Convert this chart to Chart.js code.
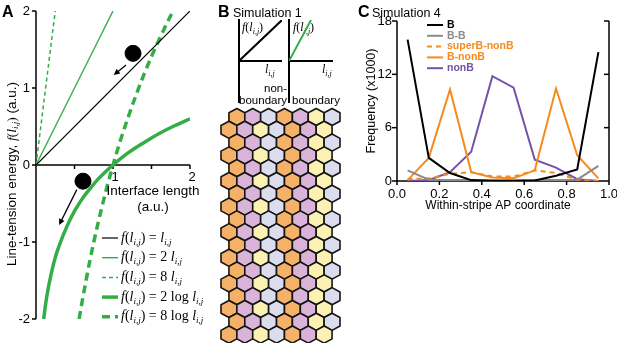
<!DOCTYPE html>
<html>
  <head>
    <meta charset="utf-8" />
    <title>Line tension energy and boundary simulations</title>
    <style>
      body {
        margin: 0;
        padding: 0;
        background: #fff;
      }
      #page {
        position: relative;
        width: 617px;
        height: 343px;
        overflow: hidden;
      }
      canvas {
        position: absolute;
        top: 0;
      }
    </style>
  </head>
  <body>
    <div id="page">
      <canvas id="chartA" width="207" height="343" style="left: 0"></canvas>
      <canvas id="chartB" width="148" height="343" style="left: 207px"></canvas>
      <canvas id="miniB1" width="53" height="96" style="left: 233px; top: 14px"></canvas>
      <canvas id="miniB2" width="56" height="96" style="left: 286px; top: 14px"></canvas>
      <canvas id="chartC" width="262" height="343" style="left: 355px"></canvas>
    </div>

    <script src="https://cdn.jsdelivr.net/npm/chart.js"></script>
    <script>
      // ---- panel A: line-tension functions ----
      const aTicksY = [-2, -1, 0, 1, 2];
      const aTicksX = [0.5, 1, 1.5, 2];
      const aTickLabelsX = ["", "1", "", "2"];
      const identX = [0, 2];
      const identY = [0, 2];
      const twoLinX = [0, 1];
      const twoLinY = [0, 2];
      const eightLinX = [0, 0.25];
      const eightLinY = [0, 2];
      const twoLogX = [0.1, 0.12, 0.15, 0.2, 0.25, 0.3, 0.4, 0.5, 0.6, 0.7, 0.8, 0.9, 1.0, 1.2, 1.4, 1.6, 1.8, 2.0];
      const twoLogY = [-2.0, -1.84, -1.65, -1.4, -1.2, -1.05, -0.8, -0.6, -0.44, -0.31, -0.19, -0.09, 0, 0.16, 0.29, 0.41, 0.51, 0.6];
      const eightLogX = [0.56, 0.6, 0.65, 0.7, 0.8, 0.9, 1.0, 1.1, 1.2, 1.3, 1.4, 1.5, 1.6, 1.7, 1.78];
      const eightLogY = [-2.0, -1.77, -1.5, -1.24, -0.78, -0.37, 0, 0.33, 0.63, 0.91, 1.17, 1.41, 1.63, 1.84, 2.0];
      const ballX = [1.26, 0.61];
      const ballY = [1.45, -0.21];
      const arrowFromX = [1.17, 0.53];
      const arrowFromY = [1.3, -0.32];
      const arrowToX = [1.01, 0.3];
      const arrowToY = [1.17, -0.78];
      const aLegendRhs = ["", "2 ", "8 ", "2 log ", "8 log "];

      // ---- panel B: simulation 1 lattice ----
      const miniX = [0, 1];
      const nonBoundaryY = [0, 1];
      const boundaryX = [0, 0.5];
      const boundaryY = [0, 1];
      const hexRows = [
        "OPBOPYB", "OPYBOPY", "OPBOPYB", "OPYBOPY", "OPBOPYB", "OPYBOPY",
        "OPBOPYB", "OPYBOPY", "OPBOPYB", "OPYBOPY", "OPBOPYB", "OPYBOPY",
        "OPBOPYB", "OPYBOPY", "OPBOPYB", "OPYBOPY", "OPBOPYB", "OPYBOPY",
      ];
      const hexFill = { O: "#f6b169", P: "#dab4d8", Y: "#fbf1b3", B: "#dbddef" };

      // ---- panel C: simulation 4 frequencies ----
      const cBins = [0.05, 0.15, 0.25, 0.35, 0.45, 0.55, 0.65, 0.75, 0.85, 0.95];
      const cTicksX = [0, 0.2, 0.4, 0.6, 0.8, 1.0];
      const cTicksY = [0, 6, 12, 18];
      const bFreq = [15.9, 2.6, 0.9, 0.1, 0, 0, 0.05, 0.6, 1.3, 14.5];
      const bbFreq = [1.2, 0.15, 0.1, 0.1, 0.1, 0.1, 0.1, 0.1, 0.15, 1.7];
      const superBNonBFreq = [0.2, 0.3, 0.8, 1.0, 0.5, 0.5, 1.2, 0.9, 0.15, 0.0];
      const bNonBFreq = [0.1, 2.6, 10.3, 1.0, 0.4, 0.3, 1.2, 10.4, 2.9, 0.3];
      const nonBFreq = [0.0, 0.1, 1.0, 3.3, 11.8, 10.5, 2.4, 1.5, 0.2, 0.0];

      const green = "#35ad47";
      const orange = "#f58a1f";
      const purple = "#7651a9";
      const grey = "#8c8c8c";
      const SANS = '"Liberation Sans", Arial, sans-serif';
      const SERIF = '"Liberation Serif", "Times New Roman", serif';

      function pts(xs, ys) {
        return xs.map((v, i) => ({ x: v, y: ys[i] }));
      }

      function seg(ctx, x1, y1, x2, y2) {
        ctx.beginPath();
        ctx.moveTo(x1, y1);
        ctx.lineTo(x2, y2);
        ctx.stroke();
      }

      // bits of text in mixed fonts (italic variables, subscripts)
      function it(t, s) {
        return { t, f: "italic " + s + "px " + SERIF, dy: 0 };
      }
      function up(t, s) {
        return { t, f: s + "px " + SERIF, dy: 0 };
      }
      function sub(t, s) {
        return { t, f: "italic " + Math.round(s * 0.65) + "px " + SERIF, dy: s * 0.3 };
      }
      function sansPart(t, s) {
        return { t, f: s + "px " + SANS, dy: 0 };
      }
      function flParts(s) {
        return [it("f", s), up("(", s), it("l", s), sub("i,j", s), up(")", s)];
      }
      function richWidth(ctx, parts) {
        let w = 0;
        parts.forEach((p) => {
          ctx.font = p.f;
          w += ctx.measureText(p.t).width;
        });
        return w;
      }
      function drawRich(ctx, parts, x, y, align) {
        const w = richWidth(ctx, parts);
        let cx = align === "center" ? x - w / 2 : align === "right" ? x - w : x;
        ctx.textAlign = "left";
        ctx.textBaseline = "middle";
        parts.forEach((p) => {
          ctx.font = p.f;
          ctx.fillText(p.t, cx, y + p.dy);
          cx += ctx.measureText(p.t).width;
        });
      }

      const baseOptions = (pad, xr, yr) => ({
        responsive: false,
        animation: false,
        events: [],
        layout: { padding: pad },
        scales: {
          x: { type: "linear", min: xr[0], max: xr[1], display: false },
          y: { type: "linear", min: yr[0], max: yr[1], display: false, reverse: !!yr[2] },
        },
        plugins: { legend: { display: false }, tooltip: { enabled: false } },
      });

      // ---------- A ----------
      const panelA = {
        id: "panelA",
        beforeDatasetsDraw(chart) {
          const { ctx, chartArea: a, scales } = chart;
          const x = scales.x, y = scales.y;
          const x0 = x.getPixelForValue(0), y0 = y.getPixelForValue(0);
          ctx.save();
          ctx.strokeStyle = "#000";
          ctx.fillStyle = "#000";
          ctx.lineWidth = 1.5;
          seg(ctx, x0, a.top, x0, a.bottom);
          seg(ctx, x0, y0, a.right, y0);
          ctx.font = "13px " + SANS;
          ctx.textBaseline = "middle";
          ctx.textAlign = "right";
          aTicksY.forEach((v) => {
            const py = y.getPixelForValue(v);
            seg(ctx, x0 - 4, py, x0, py);
            ctx.fillText(String(v), x0 - 6, py);
          });
          ctx.textAlign = "center";
          aTicksX.forEach((v, i) => {
            const px = x.getPixelForValue(v);
            seg(ctx, px, y0, px, y0 + 4);
            if (aTickLabelsX[i]) ctx.fillText(aTickLabelsX[i], px + 2, y0 + 12);
          });
          ctx.restore();
        },
        afterDatasetsDraw(chart) {
          const { ctx, scales } = chart;
          const x = scales.x, y = scales.y;
          ctx.save();
          ctx.strokeStyle = "#000";
          ctx.fillStyle = "#000";
          // arrows
          ctx.lineWidth = 1.3;
          arrowFromX.forEach((v, i) => {
            const x1 = x.getPixelForValue(v), y1 = y.getPixelForValue(arrowFromY[i]);
            const x2 = x.getPixelForValue(arrowToX[i]), y2 = y.getPixelForValue(arrowToY[i]);
            const ang = Math.atan2(y2 - y1, x2 - x1);
            seg(ctx, x1, y1, x2 - 4 * Math.cos(ang), y2 - 4 * Math.sin(ang));
            ctx.beginPath();
            ctx.moveTo(x2, y2);
            ctx.lineTo(x2 - 6 * Math.cos(ang) + 3 * Math.sin(ang), y2 - 6 * Math.sin(ang) - 3 * Math.cos(ang));
            ctx.lineTo(x2 - 6 * Math.cos(ang) - 3 * Math.sin(ang), y2 - 6 * Math.sin(ang) + 3 * Math.cos(ang));
            ctx.closePath();
            ctx.fill();
          });
          // panel letter + axis titles
          ctx.font = "bold 16px " + SANS;
          ctx.textAlign = "left";
          ctx.textBaseline = "middle";
          ctx.fillText("A", 2, 13);
          ctx.font = "13.5px " + SANS;
          ctx.textAlign = "center";
          ctx.fillText("Interface length", 153, 191);
          ctx.fillText("(a.u.)", 153, 207);
          ctx.save();
          ctx.translate(12, 174);
          ctx.rotate(-Math.PI / 2);
          drawRich(ctx, [sansPart("Line-tension energy, ", 13.5), ...flParts(13.5), sansPart(" (a.u.)", 13.5)], 0, 0, "center");
          ctx.restore();
          // legend
          const rows = chart.data.datasets.filter((d) => d.legendRow !== undefined);
          rows.forEach((d) => {
            const ry = 238 + d.legendRow * 19.7;
            ctx.save();
            ctx.strokeStyle = d.borderColor;
            ctx.lineWidth = d.borderWidth;
            ctx.setLineDash(d.borderDash || []);
            seg(ctx, 102, ry, 118, ry);
            ctx.restore();
            const rhs = aLegendRhs[d.legendRow];
            drawRich(ctx, [...flParts(14), up(" = " + rhs, 14), it("l", 14), sub("i,j", 14)], 121, ry, "left");
          });
          ctx.restore();
        },
      };

      new Chart(document.getElementById("chartA"), {
        type: "scatter",
        data: {
          datasets: [
            { data: pts(ballX, ballY), pointRadius: 8, backgroundColor: "#000", borderColor: "#000", showLine: false },
            { legendRow: 0, data: pts(identX, identY), showLine: true, borderColor: "#000", borderWidth: 1.2, pointRadius: 0 },
            { legendRow: 1, data: pts(twoLinX, twoLinY), showLine: true, borderColor: green, borderWidth: 1.4, pointRadius: 0 },
            { legendRow: 2, data: pts(eightLinX, eightLinY), showLine: true, borderColor: green, borderWidth: 1.5, borderDash: [4, 3], pointRadius: 0 },
            { legendRow: 3, data: pts(twoLogX, twoLogY), showLine: true, borderColor: green, borderWidth: 3.5, pointRadius: 0, cubicInterpolationMode: "monotone" },
            { legendRow: 4, data: pts(eightLogX, eightLogY), showLine: true, borderColor: green, borderWidth: 3.5, borderDash: [8, 5], pointRadius: 0, cubicInterpolationMode: "monotone" },
          ],
        },
        options: baseOptions({ left: 36, right: 17, top: 11, bottom: 24 }, [0, 2], [-2, 2]),
        plugins: [panelA],
      });

      // ---------- B ----------
      const panelB = {
        id: "panelB",
        afterDatasetsDraw(chart) {
          const { ctx, scales } = chart;
          const x = scales.x, y = scales.y;
          const w = x.getPixelForValue(1) - x.getPixelForValue(0);
          const r = (y.getPixelForValue(1) - y.getPixelForValue(0)) / 1.5;
          const ds = chart.data.datasets[0];
          const meta = chart.getDatasetMeta(0);
          ctx.save();
          ctx.strokeStyle = "#151515";
          ctx.lineWidth = 1.6;
          ctx.lineJoin = "round";
          meta.data.forEach((el, i) => {
            const cx = el.x, cy = el.y;
            ctx.beginPath();
            ctx.moveTo(cx, cy - r);
            ctx.lineTo(cx + w / 2, cy - r / 2);
            ctx.lineTo(cx + w / 2, cy + r / 2);
            ctx.lineTo(cx, cy + r);
            ctx.lineTo(cx - w / 2, cy + r / 2);
            ctx.lineTo(cx - w / 2, cy - r / 2);
            ctx.closePath();
            ctx.fillStyle = hexFill[ds.cellColor[i]];
            ctx.fill();
            ctx.stroke();
          });
          ctx.fillStyle = "#000";
          ctx.font = "bold 16px " + SANS;
          ctx.textAlign = "left";
          ctx.textBaseline = "middle";
          ctx.fillText("B", 11, 13);
          ctx.font = "12.5px " + SANS;
          ctx.fillText("Simulation 1", 26, 14);
          ctx.font = "11.5px " + SANS;
          ctx.textAlign = "right";
          ctx.fillText("non-", 80, 89);
          ctx.fillText("boundary", 80, 101);
          ctx.textAlign = "left";
          ctx.fillText("boundary", 85, 101);
          ctx.restore();
        },
      };

      const cells = [];
      const cellColor = [];
      hexRows.forEach((row, r) => {
        row.split("").forEach((c, k) => {
          cells.push({ x: k + 0.5 + (r % 2 === 0 ? 0.5 : 0), y: r });
          cellColor.push(c);
        });
      });

      new Chart(document.getElementById("chartB"), {
        type: "scatter",
        data: { datasets: [{ data: cells, cellColor: cellColor, pointRadius: 0 }] },
        options: baseOptions({ left: 14, right: 15, top: 117, bottom: 8.4 }, [0, 7.5], [0, 17, true]),
        plugins: [panelB],
      });

      const miniAxes = {
        id: "miniAxes",
        beforeDatasetsDraw(chart, args, opts) {
          const { ctx, chartArea: a } = chart;
          ctx.save();
          ctx.strokeStyle = "#000";
          ctx.lineWidth = 2;
          seg(ctx, a.left, a.top - 1, a.left, 89);
          seg(ctx, a.left, a.bottom, a.right, a.bottom);
          ctx.fillStyle = "#000";
          drawRich(ctx, flParts(12), a.left + opts.fx, a.top + 8, "left");
          drawRich(ctx, [it("l", 12), sub("i,j", 12)], a.left + opts.lx, a.bottom + 9, "left");
          ctx.restore();
        },
      };

      function miniChart(id, xs, ys, color, pad, opts) {
        const o = baseOptions(pad, [0, 1], [0, 1]);
        o.plugins.miniAxes = opts;
        new Chart(document.getElementById(id), {
          type: "scatter",
          data: { datasets: [{ data: pts(xs, ys), showLine: true, borderColor: color, borderWidth: 2, pointRadius: 0 }] },
          options: o,
          plugins: [miniAxes],
        });
      }
      miniChart("miniB1", miniX, nonBoundaryY, "#000", { left: 6, right: 4, top: 6, bottom: 49 }, { fx: 3, lx: 26 });
      miniChart("miniB2", boundaryX, boundaryY, green, { left: 3, right: 9, top: 6, bottom: 49 }, { fx: 4, lx: 33 });

      // ---------- C ----------
      const panelC = {
        id: "panelC",
        beforeDatasetsDraw(chart) {
          const { ctx, chartArea: a, scales } = chart;
          const x = scales.x, y = scales.y;
          ctx.save();
          ctx.strokeStyle = "#000";
          ctx.fillStyle = "#000";
          ctx.lineWidth = 1.5;
          seg(ctx, a.left, a.top, a.left, a.bottom);
          seg(ctx, a.left, a.bottom, a.right, a.bottom);
          seg(ctx, a.right, a.top, a.right, a.bottom);
          ctx.font = "13px " + SANS;
          ctx.textBaseline = "middle";
          ctx.textAlign = "right";
          cTicksY.forEach((v) => {
            const py = y.getPixelForValue(v);
            seg(ctx, a.left - 5, py, a.left, py);
            if (v > 0) seg(ctx, a.right - 5, py, a.right, py);
            ctx.fillText(String(v), a.left - 5, py);
          });
          ctx.textAlign = "center";
          cTicksX.forEach((v) => {
            const px = x.getPixelForValue(v);
            seg(ctx, px, a.bottom, px, a.bottom + 4);
            ctx.fillText(v.toFixed(1), px, a.bottom + 13);
          });
          ctx.font = "12px " + SANS;
          ctx.fillText("Within-stripe AP coordinate", (a.left + a.right) / 2 - 5, 206);
          ctx.save();
          ctx.translate(17, 101);
          ctx.rotate(-Math.PI / 2);
          ctx.font = "12.5px " + SANS;
          ctx.fillText("Frequency (x1000)", 0, 0);
          ctx.restore();
          ctx.font = "bold 16px " + SANS;
          ctx.textAlign = "left";
          ctx.fillText("C", 3, 13);
          ctx.font = "12.5px " + SANS;
          ctx.fillText("Simulation 4", 17, 14);
          ctx.restore();
        },
        afterDatasetsDraw(chart) {
          const { ctx } = chart;
          ctx.save();
          ctx.textAlign = "left";
          ctx.textBaseline = "middle";
          ctx.font = "bold 10.5px " + SANS;
          chart.data.datasets.forEach((d) => {
            const ry = 25 + d.legendRow * 10.8;
            ctx.save();
            ctx.strokeStyle = d.borderColor;
            ctx.lineWidth = 2;
            ctx.setLineDash(d.borderDash || []);
            seg(ctx, 72, ry, 88, ry);
            ctx.restore();
            ctx.fillStyle = d.borderColor;
            ctx.fillText(d.label, 92, ry);
          });
          ctx.restore();
        },
      };

      new Chart(document.getElementById("chartC"), {
        type: "line",
        data: {
          datasets: [
            { label: "B", legendRow: 0, data: pts(cBins, bFreq), borderColor: "#000", borderWidth: 2, pointRadius: 0 },
            { label: "B-B", legendRow: 1, data: pts(cBins, bbFreq), borderColor: grey, borderWidth: 2, pointRadius: 0 },
            { label: "superB-nonB", legendRow: 2, data: pts(cBins, superBNonBFreq), borderColor: orange, borderWidth: 2, borderDash: [5, 4], pointRadius: 0 },
            { label: "B-nonB", legendRow: 3, data: pts(cBins, bNonBFreq), borderColor: orange, borderWidth: 2, pointRadius: 0 },
            { label: "nonB", legendRow: 4, data: pts(cBins, nonBFreq), borderColor: purple, borderWidth: 2, pointRadius: 0 },
          ],
        },
        options: baseOptions({ left: 42, right: 8, top: 21, bottom: 162 }, [0, 1], [0, 18]),
        plugins: [panelC],
      });
    </script>
  </body>
</html>
